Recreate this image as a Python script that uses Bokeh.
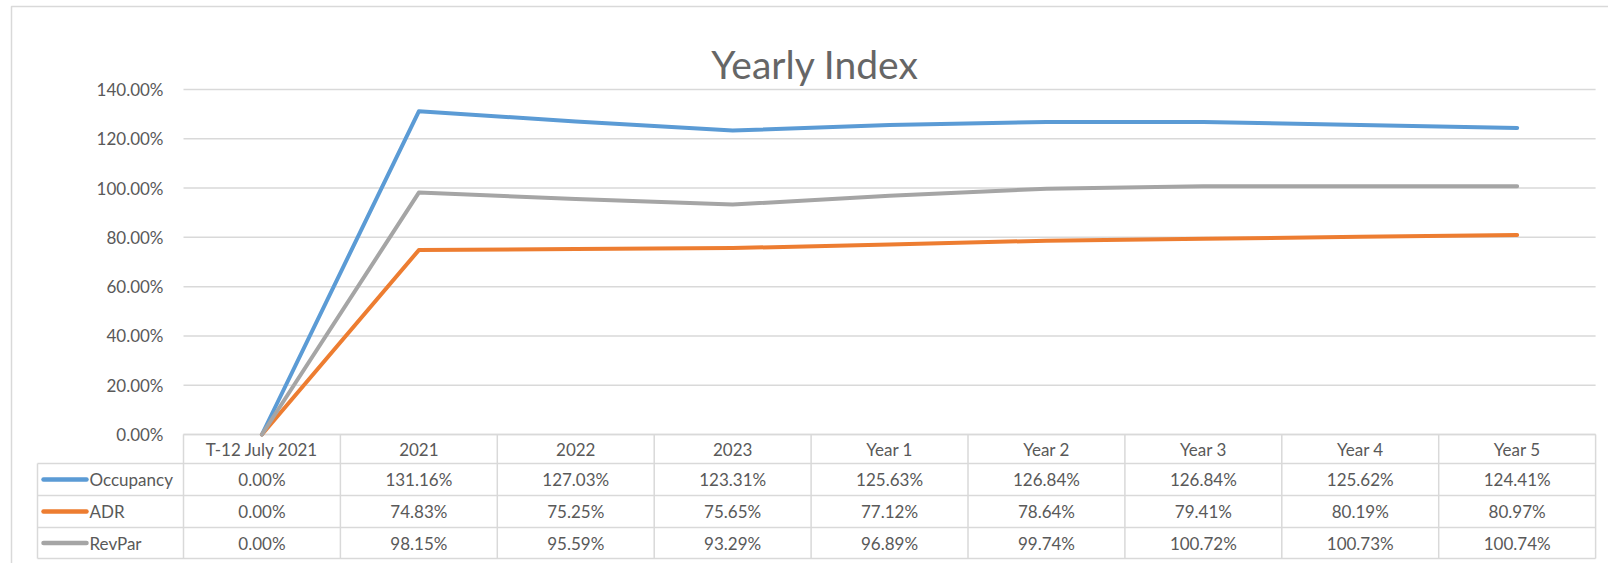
from bokeh.plotting import figure
from bokeh.models import Range1d
from bokeh.core.properties import value
from bokeh.embed import file_html
from bokeh.resources import INLINE

# ---- data ----
categories = ["T-12 July 2021", "2021", "2022", "2023", "Year 1", "Year 2", "Year 3", "Year 4", "Year 5"]
occupancy = [0.00, 131.16, 127.03, 123.31, 125.63, 126.84, 126.84, 125.62, 124.41]
adr = [0.00, 74.83, 75.25, 75.65, 77.12, 78.64, 79.41, 80.19, 80.97]
revpar = [0.00, 98.15, 95.59, 93.29, 96.89, 99.74, 100.72, 100.73, 100.74]
series_names = ["Occupancy", "ADR", "RevPar"]
series_colors = ["#5B9BD5", "#ED7D31", "#A5A5A5"]
y_ticks = [0, 20, 40, 60, 80, 100, 120, 140]
y_tick_labels = ["0.00%", "20.00%", "40.00%", "60.00%", "80.00%", "100.00%", "120.00%", "140.00%"]
title_text = "Yearly Index"

# ---- layout (page pixels -> data units) ----
PX0, COLW = 183.0, 156.9
PY0, UNIT = 434.0, 49.29 / 20.0
W, H = 1608, 563

def dx(px):
    return (px - PX0) / COLW

def dy(py):
    return (PY0 - py) / UNIT

FONT = value("Lato")
TXT = "#595959"
GRID = "#D9D9D9"

p = figure(width=W, height=H, output_backend="svg", toolbar_location=None,
           x_range=Range1d(dx(0), dx(W)), y_range=Range1d(dy(H), dy(0)),
           x_axis_location=None, y_axis_location=None, min_border=0)
p.grid.visible = False
p.outline_line_color = None
p.background_fill_color = "white"
p.border_fill_color = "white"

n = len(categories)
xs = [i + 0.5 for i in range(n)]

# chart border
p.quad(left=[dx(11)], right=[dx(1650)], top=[dy(6)], bottom=[dy(620)],
       fill_color=None, line_color=GRID, line_width=1.5)

# title
p.text(x=[dx(814.5)], y=[dy(63)], text=[title_text], text_font=FONT, text_font_size="39px",
       text_color="#666666", text_align="center", text_baseline="alphabetic")

# gridlines
p.segment(x0=[0] * len(y_ticks), x1=[n] * len(y_ticks), y0=y_ticks, y1=y_ticks,
          line_color=GRID, line_width=1.5)
# y tick labels
p.text(x=[dx(163)] * len(y_ticks), y=y_ticks, text=y_tick_labels, text_font=FONT,
       text_font_size="17px", text_color=TXT, text_align="right", text_baseline="middle")

# data table grid
row_edges = [434, 463, 495, 527, 558]
left_px = 37
hx0, hx1, hy0, hy1 = [], [], [], []
for k, ry in enumerate(row_edges):
    hx0.append(dx(PX0 if k == 0 else left_px))
    hx1.append(n)
    hy0.append(dy(ry))
    hy1.append(dy(ry))
for i in range(n + 1):
    hx0.append(i)
    hx1.append(i)
    hy0.append(dy(row_edges[0]))
    hy1.append(dy(row_edges[-1]))
hx0.append(dx(left_px)); hx1.append(dx(left_px))
hy0.append(dy(row_edges[1])); hy1.append(dy(row_edges[-1]))
p.segment(x0=hx0, x1=hx1, y0=hy0, y1=hy1, line_color=GRID, line_width=1.5)

# lines
all_series = [occupancy, adr, revpar]
for vals, col in zip(all_series, series_colors):
    p.line(xs, vals, line_color=col, line_width=4, line_join="round", line_cap="round")

# header text
row_centers = [(row_edges[k] + row_edges[k + 1]) / 2.0 for k in range(len(row_edges) - 1)]
p.text(x=xs, y=[dy(row_centers[0])] * n, text=categories, text_font=FONT, text_font_size="17px",
       text_color=TXT, text_align="center", text_baseline="middle")

# rows
for r, (name, vals, col) in enumerate(zip(series_names, all_series, series_colors)):
    cy = dy(row_centers[r + 1])
    p.segment(x0=[dx(43)], x1=[dx(86)], y0=[cy], y1=[cy], line_color=col, line_width=4.5,
              line_cap="round")
    p.text(x=[dx(89)], y=[cy], text=[name], text_font=FONT, text_font_size="17px",
           text_color=TXT, text_align="left", text_baseline="middle")
    p.text(x=xs, y=[cy] * n, text=[f"{v:.2f}%" for v in vals], text_font=FONT,
           text_font_size="17px", text_color=TXT, text_align="center", text_baseline="middle")

open("out.html", "w").write(file_html(p, INLINE))
